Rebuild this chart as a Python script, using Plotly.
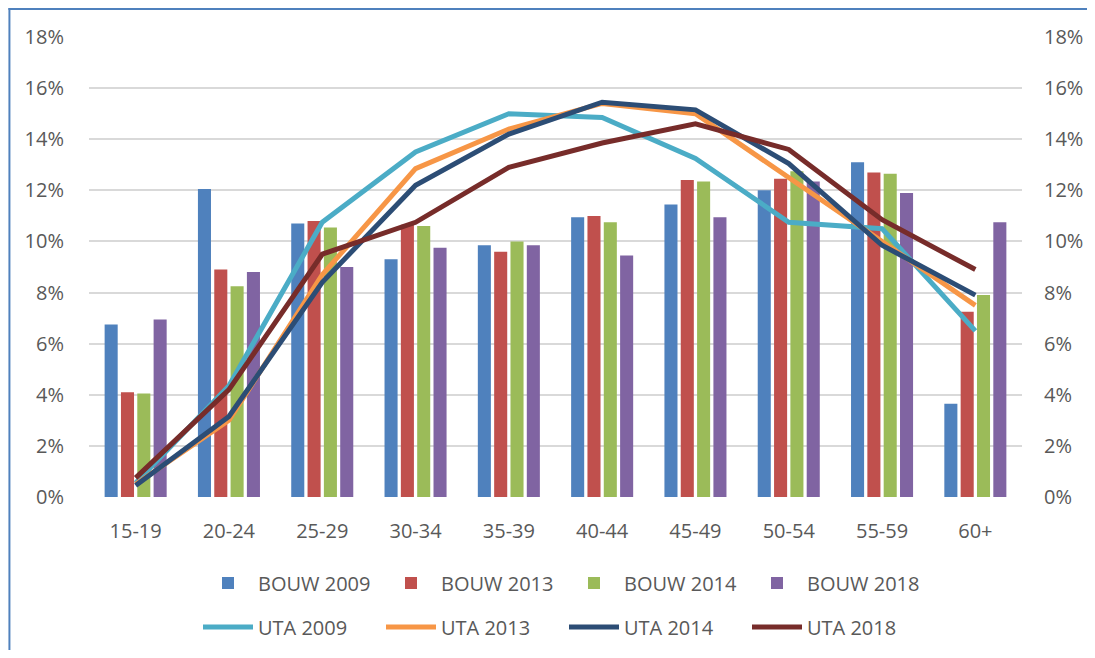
import plotly.graph_objects as go

categories = ["15-19", "20-24", "25-29", "30-34", "35-39", "40-44", "45-49", "50-54", "55-59", "60+"]

bouw_2009 = [6.75, 12.05, 10.7, 9.3, 9.85, 10.95, 11.45, 12.0, 13.1, 3.65]
bouw_2013 = [4.1, 8.9, 10.8, 10.65, 9.6, 11.0, 12.4, 12.45, 12.7, 7.25]
bouw_2014 = [4.05, 8.25, 10.55, 10.6, 10.0, 10.75, 12.35, 12.75, 12.65, 7.9]
bouw_2018 = [6.95, 8.8, 9.0, 9.75, 9.85, 9.45, 10.95, 12.35, 11.9, 10.75]

uta_2009 = [0.55, 4.35, 10.75, 13.5, 15.0, 14.85, 13.25, 10.75, 10.5, 6.5]
uta_2013 = [0.5, 3.0, 8.7, 12.85, 14.4, 15.4, 15.0, 12.5, 10.0, 7.5]
uta_2014 = [0.45, 3.15, 8.4, 12.2, 14.2, 15.45, 15.15, 13.05, 9.85, 7.9]
uta_2018 = [0.75, 4.2, 9.5, 10.75, 12.9, 13.85, 14.6, 13.6, 10.85, 8.9]

tick_vals = [0, 2, 4, 6, 8, 10, 12, 14, 16, 18]
tick_text = [f"{v}%" for v in tick_vals]

bar_series = [
    ("BOUW 2009", bouw_2009, "#4F81BD"),
    ("BOUW 2013", bouw_2013, "#C0504D"),
    ("BOUW 2014", bouw_2014, "#9BBB59"),
    ("BOUW 2018", bouw_2018, "#8064A2"),
]
line_series = [
    ("UTA 2009", uta_2009, "#4BACC6"),
    ("UTA 2013", uta_2013, "#F79646"),
    ("UTA 2014", uta_2014, "#2C4D75"),
    ("UTA 2018", uta_2018, "#772C2A"),
]

FONT = "Open Sans"
GREY = "#595959"
FRAME = "#4F81BD"

# page has an 8px body margin; figure placed at (8, 8)
W, H = 1087, 642
L, R, T, B = 81, 68, 29, 153
PW, PH = W - L - R, H - T - B

fig = go.Figure()
for name, vals, col in bar_series:
    fig.add_trace(go.Bar(x=categories, y=vals, name=name, marker_color=col,
                         marker_line_width=0, legend="legend"))
for name, vals, col in line_series:
    fig.add_trace(go.Scatter(x=categories, y=vals, name=name, mode="lines",
                             line=dict(color=col, width=5), yaxis="y2",
                             legend="legend2"))

axis_common = dict(range=[0, 18], tickvals=tick_vals, ticktext=tick_text,
                   tickfont=dict(family=FONT, size=20, color=GREY),
                   showline=False, zeroline=False, ticks="")


def px_x(px):  # figure pixel -> paper x
    return (px - L) / PW


def px_y(py):  # figure pixel (from top) -> paper y
    return (H - B - py) / PH


fig.update_layout(
    width=W, height=H,
    margin=dict(l=L, r=R, t=T, b=B),
    paper_bgcolor="white", plot_bgcolor="white",
    barmode="group", bargap=0.3, bargroupgap=0.2,
    font=dict(family=FONT, color=GREY),
    xaxis=dict(showgrid=False, showline=False, ticks="",
               tickfont=dict(family=FONT, size=20, color=GREY), ticklabelstandoff=20),
    yaxis=dict(**axis_common, showgrid=True, gridcolor="#D9D9D9", gridwidth=1.5,
               ticklabelstandoff=24),
    yaxis2=dict(**axis_common, overlaying="y", side="right", showgrid=False,
                ticklabelstandoff=21),
    legend=dict(orientation="h", xref="container", yref="container",
                x=190/W, y=1 - 575/H, xanchor="left", yanchor="middle",
                font=dict(family=FONT, size=20, color=GREY),
                itemwidth=50, entrywidth=118, bgcolor="rgba(0,0,0,0)"),
    legend2=dict(orientation="h", xref="container", yref="container",
                 x=190/W, y=1 - 619/H, xanchor="left", yanchor="middle",
                 font=dict(family=FONT, size=20, color=GREY),
                 itemwidth=50, entrywidth=118, bgcolor="rgba(0,0,0,0)"),
    showlegend=True,
    shapes=[
        dict(type="rect", xref="paper", yref="paper",
             x0=px_x(0), x1=px_x(2), y0=px_y(H), y1=px_y(0),
             line=dict(width=0), fillcolor=FRAME, layer="below"),
        dict(type="rect", xref="paper", yref="paper",
             x0=px_x(0), x1=px_x(W), y0=px_y(2), y1=px_y(0),
             line=dict(width=0), fillcolor=FRAME, layer="below"),
    ],
)

fig.write_html("out.html")
